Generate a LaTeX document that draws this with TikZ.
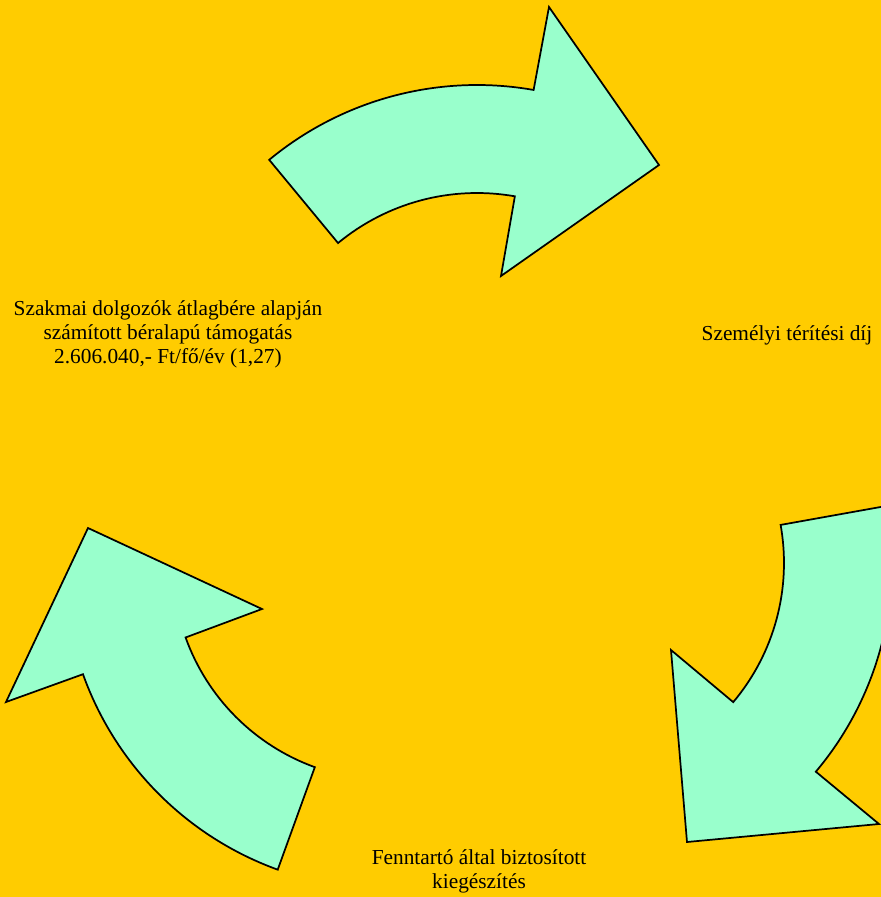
\documentclass[tikz,border=0pt]{standalone}
\usepackage{fontspec}
\setmainfont{Liberation Serif}
\usetikzlibrary{calc}
\definecolor{bgorange}{HTML}{FFCC00}
\definecolor{mint}{HTML}{99FFCC}
\begin{document}
\begin{tikzpicture}[x=0.75pt,y=-0.75pt,
  arrowshape/.style={fill=mint,draw=black,line width=1.3pt,line join=miter},
  lbl/.style={font=\fontsize{16}{18}\selectfont,align=center,inner sep=0pt,text=black}]
\useasboundingbox (0,0) rectangle (881,897);
\fill[bgorange] (0,0) rectangle (881,897);
\clip (0,0) rectangle (881,897);
\coordinate (c1) at (477,411);
\coordinate (c2) at (568,563);
\coordinate (c3) at (388,565);
% top arrow
\draw[arrowshape] ($(c1)+(230.4:326)$) arc[start angle=230.4,end angle=280,radius=326]
  -- (549,7) -- (659,165) -- (501,276)
  -- ($(c1)+(280:218)$) arc[start angle=280,end angle=230.4,radius=218] -- cycle;
% right arrow
\draw[arrowshape] ($(c2)+(-10.16:216)$) arc[start angle=-10.16,end angle=40.1,radius=216]
  -- (671,650) -- (687,842) -- (879,824)
  -- ($(c2)+(40.1:324)$) arc[start angle=40.1,end angle=-10.16,radius=324] -- cycle;
% left arrow
\draw[arrowshape] ($(c3)+(109.9:324)$) arc[start angle=109.9,end angle=160.3,radius=324]
  -- (6,702) -- (88,528) -- (262,609)
  -- ($(c3)+(160.3:215)$) arc[start angle=160.3,end angle=109.9,radius=215] -- cycle;
\node[lbl] (t1) at (168,334) {Szakmai dolgozók átlagbére alapján\\számított béralapú támogatás\\2.606.040,- Ft/fő/év (1,27)};
\node[lbl] (t2) at (787,335) {Személyi térítési díj};
\node[lbl] (t3) at (479,871) {Fenntartó által biztosított\\kiegészítés};
\end{tikzpicture}
\end{document}
